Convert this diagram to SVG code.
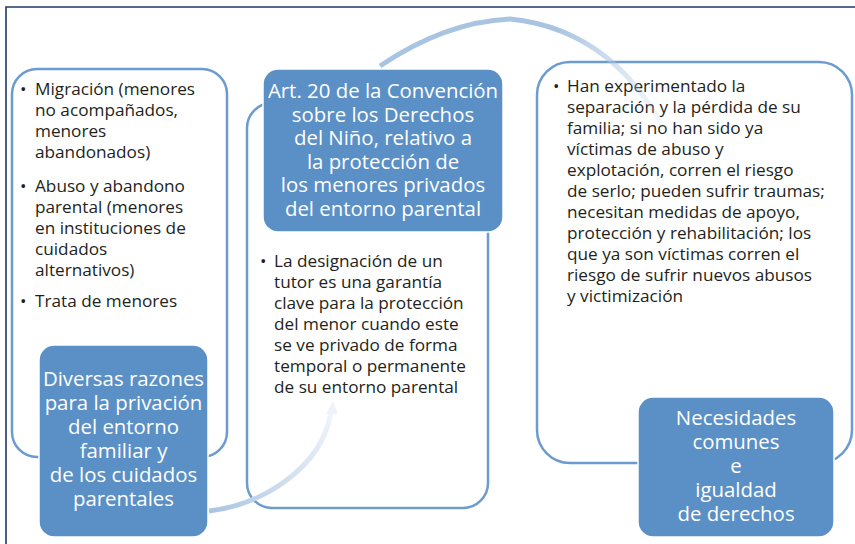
<svg xmlns="http://www.w3.org/2000/svg" width="855" height="544" viewBox="0 0 855 544">
<defs>
<style>
.frame{fill:none;stroke:#1f3a6b;stroke-width:1.6}
.box{fill:#ffffff;stroke:#6b9bd1;stroke-width:2.5}
.blue{fill:#5b90c6;stroke:#ffffff;stroke-width:1.5}
.body{font-family:"Open Sans","Noto Sans",sans-serif;font-size:17.2px;fill:#231f20}
.title{font-family:"Open Sans","Noto Sans",sans-serif;font-size:20.4px;fill:#ffffff;text-anchor:middle}
</style>
<linearGradient id="gTop" gradientUnits="userSpaceOnUse" x1="380" y1="0" x2="675" y2="0">
<stop offset="0" stop-color="#a9c4e2"/>
<stop offset="0.6" stop-color="#a9c4e2"/>
<stop offset="1" stop-color="#a9c4e2" stop-opacity="0"/>
</linearGradient>
<linearGradient id="gBot" gradientUnits="userSpaceOnUse" x1="210" y1="511" x2="333" y2="402">
<stop offset="0" stop-color="#a9c4e2"/>
<stop offset="0.35" stop-color="#c8d9ec"/>
<stop offset="1" stop-color="#f2f6fb"/>
</linearGradient>
</defs>
<rect x="0" y="0" width="855" height="544" fill="#ffffff"/>
<path class="frame" d="M6 544 V7 H855"/>

<g id="reasons-list">
<rect class="box" x="12" y="69" width="215" height="388" rx="25"/>
<g class="body">
<text x="20" y="95">•</text>
<text x="35" y="95">Migración (menores</text>
<text x="35" y="116">no acompañados,</text>
<text x="35" y="137">menores</text>
<text x="35" y="158">abandonados)</text>
<text x="20" y="192">•</text>
<text x="35" y="192">Abuso y abandono</text>
<text x="35" y="213">parental (menores</text>
<text x="35" y="234">en instituciones de</text>
<text x="35" y="255">cuidados</text>
<text x="35" y="276">alternativos)</text>
<text x="20" y="307">•</text>
<text x="35" y="307">Trata de menores</text>
</g>
</g>

<g id="tutor-list">
<rect class="box" x="247" y="103" width="241" height="405" rx="25"/>
<g class="body">
<text x="260" y="267">•</text>
<text x="274" y="267">La designación de un</text>
<text x="274" y="288">tutor es una garantía</text>
<text x="274" y="309">clave para la protección</text>
<text x="274" y="330">del menor cuando este</text>
<text x="274" y="351">se ve privado de forma</text>
<text x="274" y="372">temporal o permanente</text>
<text x="274" y="393">de su entorno parental</text>
</g>
</g>

<g id="needs-list">
<rect class="box" x="537" y="62" width="315" height="401" rx="33"/>
<g class="body">
<text x="553" y="92">•</text>
<text x="567" y="92">Han experimentado la</text>
<text x="567" y="113">separación y la pérdida de su</text>
<text x="567" y="134">familia; si no han sido ya</text>
<text x="567" y="155">víctimas de abuso y</text>
<text x="567" y="176">explotación, corren el riesgo</text>
<text x="567" y="197">de serlo; pueden sufrir traumas;</text>
<text x="567" y="218">necesitan medidas de apoyo,</text>
<text x="567" y="239">protección y rehabilitación; los</text>
<text x="567" y="260">que ya son víctimas corren el</text>
<text x="567" y="281">riesgo de sufrir nuevos abusos</text>
<text x="567" y="302">y victimización</text>
</g>
</g>

<g id="connectors">
<path d="M380 66 Q445 22 510 19 Q620 30 675 150" fill="none" stroke="url(#gTop)" stroke-width="5"/>
<path d="M209 511 C262 505 322 468 331 412" fill="none" stroke="url(#gBot)" stroke-width="5"/>
<polygon points="333,401 326,414 338,414" fill="#eef3f9"/>
</g>

<g id="reasons">
<rect class="blue" x="39" y="345" width="169" height="192" rx="15"/>
<g class="title">
<text x="123.5" y="386">Diversas razones</text>
<text x="123.5" y="410">para la privación</text>
<text x="123.5" y="434">del entorno</text>
<text x="123.5" y="458">familiar y</text>
<text x="123.5" y="482">de los cuidados</text>
<text x="123.5" y="506">parentales</text>
</g>
</g>

<g id="article20">
<rect class="blue" x="263" y="69" width="240" height="163" rx="15"/>
<g class="title">
<text x="383" y="98">Art. 20 de la Convención</text>
<text x="383" y="121.5">sobre los Derechos</text>
<text x="383" y="145">del Niño, relativo a</text>
<text x="383" y="168.5">la protección de</text>
<text x="383" y="192">los menores privados</text>
<text x="383" y="215.5">del entorno parental</text>
</g>
</g>

<g id="needs">
<rect class="blue" x="638" y="397" width="196" height="140" rx="15"/>
<g class="title">
<text x="736" y="425">Necesidades</text>
<text x="736" y="449">comunes</text>
<text x="736" y="473">e</text>
<text x="736" y="497">igualdad</text>
<text x="736" y="521">de derechos</text>
</g>
</g>
</svg>
